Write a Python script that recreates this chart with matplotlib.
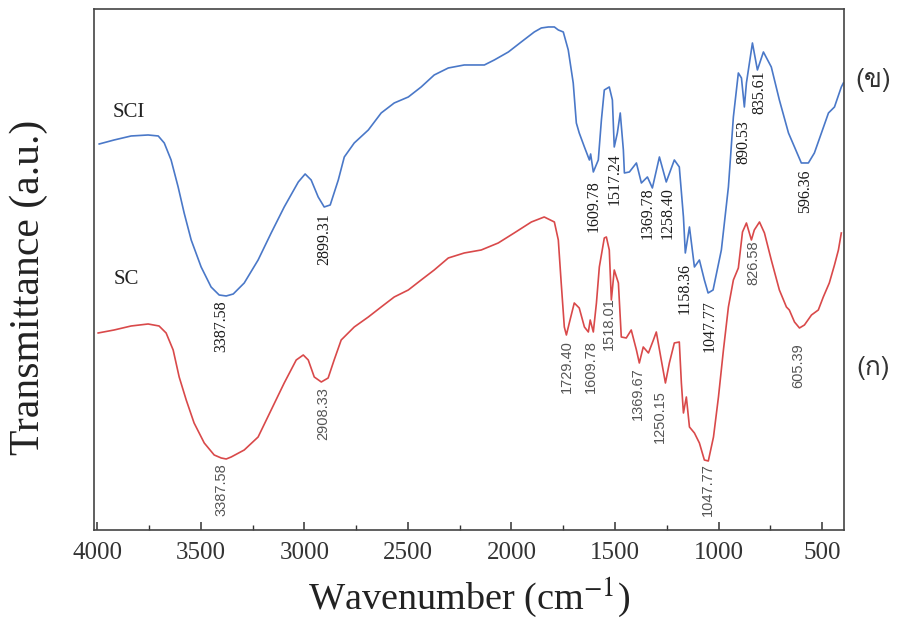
import numpy as np
import matplotlib
matplotlib.use("Agg")
import matplotlib.pyplot as plt
from matplotlib import font_manager
from matplotlib.ft2font import FT2Font
from matplotlib.ticker import MultipleLocator

# SCI spectrum (blue): wavenumber (cm-1), transmittance (a.u.)
sci_wn = [3990, 3918, 3836, 3754, 3705, 3676, 3643, 3609, 3580, 3546, 3498, 3450, 3411, 3377, 3343,
          3290, 3223, 3160, 3097, 3029, 2996, 2967, 2933, 2904, 2875, 2836, 2807, 2759, 2691,
          2629, 2566, 2498, 2436, 2373, 2305, 2228, 2131, 2083, 2015, 1953, 1890, 1856, 1822,
          1793, 1774, 1750, 1726, 1702, 1687, 1673, 1648, 1624, 1618, 1605, 1581, 1566, 1552,
          1528, 1513, 1504, 1489, 1475, 1460, 1455, 1431, 1397, 1373, 1344, 1320, 1286, 1253,
          1214, 1190, 1170, 1161, 1141, 1117, 1093, 1069, 1051, 1027, 987, 953, 929, 905,
          890, 876, 866, 837, 813, 784, 746, 707, 663, 634, 601, 567, 538, 504, 470, 441,
          408, 398]
sci_t = [386, 390, 394, 395, 394, 387, 370, 343, 317, 290, 263, 243, 235, 234, 236,
         247, 270, 297, 323, 348, 356, 350, 333, 323, 325, 350, 373, 387, 400,
         417, 427, 433, 443, 455, 462, 465, 465, 470, 478, 488, 498, 502, 503,
         503, 500, 498, 480, 447, 407, 397, 383, 370, 376, 358, 370, 410, 440,
         443, 430, 383, 397, 417, 380, 357, 358, 367, 347, 353, 342, 373, 348,
         370, 363, 313, 277, 303, 263, 270, 250, 237, 240, 280, 343, 413, 457,
         452, 423, 447, 487, 460, 478, 463, 430, 397, 383, 367, 367, 377, 397, 417, 423,
         443, 447]

# SC spectrum (red)
sc_wn = [3995, 3918, 3836, 3754, 3701, 3667, 3633, 3604, 3570, 3532, 3483, 3435, 3401, 3377, 3353,
         3290, 3223, 3160, 3097, 3039, 3005, 2981, 2952, 2918, 2885, 2856, 2822, 2759, 2691,
         2629, 2566, 2498, 2436, 2373, 2305, 2228, 2146, 2064, 1987, 1904, 1842, 1793, 1774,
         1760, 1745, 1735, 1721, 1697, 1673, 1648, 1629, 1620, 1605, 1590, 1576, 1552, 1542,
         1528, 1518, 1504, 1484, 1470, 1446, 1422, 1397, 1383, 1364, 1339, 1315, 1301, 1277,
         1257, 1238, 1214, 1190, 1180, 1170, 1156, 1141, 1117, 1093, 1069, 1050, 1025, 1001,
         977, 953, 929, 905, 895, 885, 866, 842, 828, 803, 779, 746, 707, 673, 659, 634,
         610, 586, 552, 519, 495, 466, 441, 422, 408]
sc_t = [197, 200, 204, 206, 204, 197, 180, 153, 130, 107, 87, 75, 72, 71, 73,
        80, 93, 120, 147, 170, 175, 170, 153, 148, 152, 170, 190, 203, 213,
        223, 233, 240, 250, 260, 272, 277, 280, 287, 297, 308, 313, 308, 290,
        247, 203, 195, 207, 227, 222, 203, 198, 210, 198, 227, 263, 292, 293,
        280, 230, 260, 247, 193, 192, 200, 180, 167, 183, 177, 190, 198, 170,
        147, 167, 187, 188, 147, 117, 133, 103, 97, 87, 70, 69, 93, 133,
        180, 223, 250, 262, 280, 298, 307, 290, 300, 308, 297, 270, 240, 223, 220, 208,
        202, 205, 215, 220, 233, 247, 265, 280, 297]

# peak labels: (text, wavenumber, top of label in a.u.)
sci_peaks = [("3387.58", 3401, 230), ("2899.31", 2904, 317), ("1609.78", 1605, 350),
             ("1517.24", 1504, 377), ("1369.78", 1344, 343), ("1258.40", 1248, 343),
             ("1158.36", 1166, 267), ("1047.77", 1045, 230), ("890.53", 881, 410),
             ("835.61", 803, 460), ("596.36", 581, 360)]
sc_peaks = [("3387.58", 3401, 67), ("2908.33", 2909, 143), ("1729.40", 1735, 190),
            ("1609.78", 1615, 190), ("1518.01", 1528, 233), ("1369.67", 1388, 163),
            ("1250.15", 1286, 140), ("1047.77", 1050, 67), ("826.58", 832, 290),
            ("605.39", 615, 187)]

xticks = [4000, 3500, 3000, 2500, 2000, 1500, 1000, 500]


def thai_font():
    # look for an installed font that actually has Thai glyphs
    for f in font_manager.fontManager.ttflist:
        try:
            if 0x0E02 in FT2Font(f.fname).get_charmap():
                return f.name
        except Exception:
            pass
    return "DejaVu Sans"


plt.rcParams["font.family"] = ["Liberation Serif", "DejaVu Serif"]
plt.rcParams["mathtext.fontset"] = "stix"

fig = plt.figure(figsize=(9.2, 6.32), dpi=100)
ax = fig.add_axes([0.1022, 0.1614, 0.8152, 0.8244])

ax.plot(sci_wn, sci_t, color="#4a78c8", lw=1.2)
ax.plot(sc_wn, sc_t, color="#d9494a", lw=1.2)

for txt, x, y in sci_peaks:
    ax.text(x, y, txt, rotation=90, ha="center", va="top", fontsize=11.5, color="#1a1a1a")
for txt, x, y in sc_peaks:
    ax.text(x, y, txt, rotation=90, ha="center", va="top", fontsize=10.5,
            color="#555555", family=["Liberation Sans", "DejaVu Sans"])

ax.text(3925, 417, "SCI", fontsize=15, color="#222222", va="center", ha="left")
ax.text(3920, 250, "SC", fontsize=15, color="#222222", va="center", ha="left")

ax.set_xlim(4015, 395)
ax.set_ylim(0, 521)
ax.set_xticks(xticks)
ax.xaxis.set_minor_locator(MultipleLocator(250))
ax.set_yticks([])
ax.tick_params(axis="x", which="major", direction="in", length=6, width=1.1,
               labelsize=18, pad=9, colors="#333333")
ax.tick_params(axis="x", which="minor", direction="in", length=3.5, width=1.0, colors="#333333")
for s in ax.spines.values():
    s.set_color("#444444")
    s.set_linewidth(1.2)

ax.set_xlabel("Wavenumber (cm$^{-1}$)", fontsize=27.5, color="#222222", labelpad=8)
ax.set_ylabel("Transmittance (a.u.)", fontsize=30, color="#222222")
ax.yaxis.set_label_coords(-0.062, 0.466)

tf = thai_font()
fig.text(873 / 920, 1 - 80 / 632, "(ข)", fontsize=19, family=[tf, "DejaVu Sans"],
         ha="center", va="center", color="#333333")
fig.text(873 / 920, 1 - 368 / 632, "(ก)", fontsize=19, family=[tf, "DejaVu Sans"],
         ha="center", va="center", color="#333333")

fig.savefig("out.png", dpi=100)
